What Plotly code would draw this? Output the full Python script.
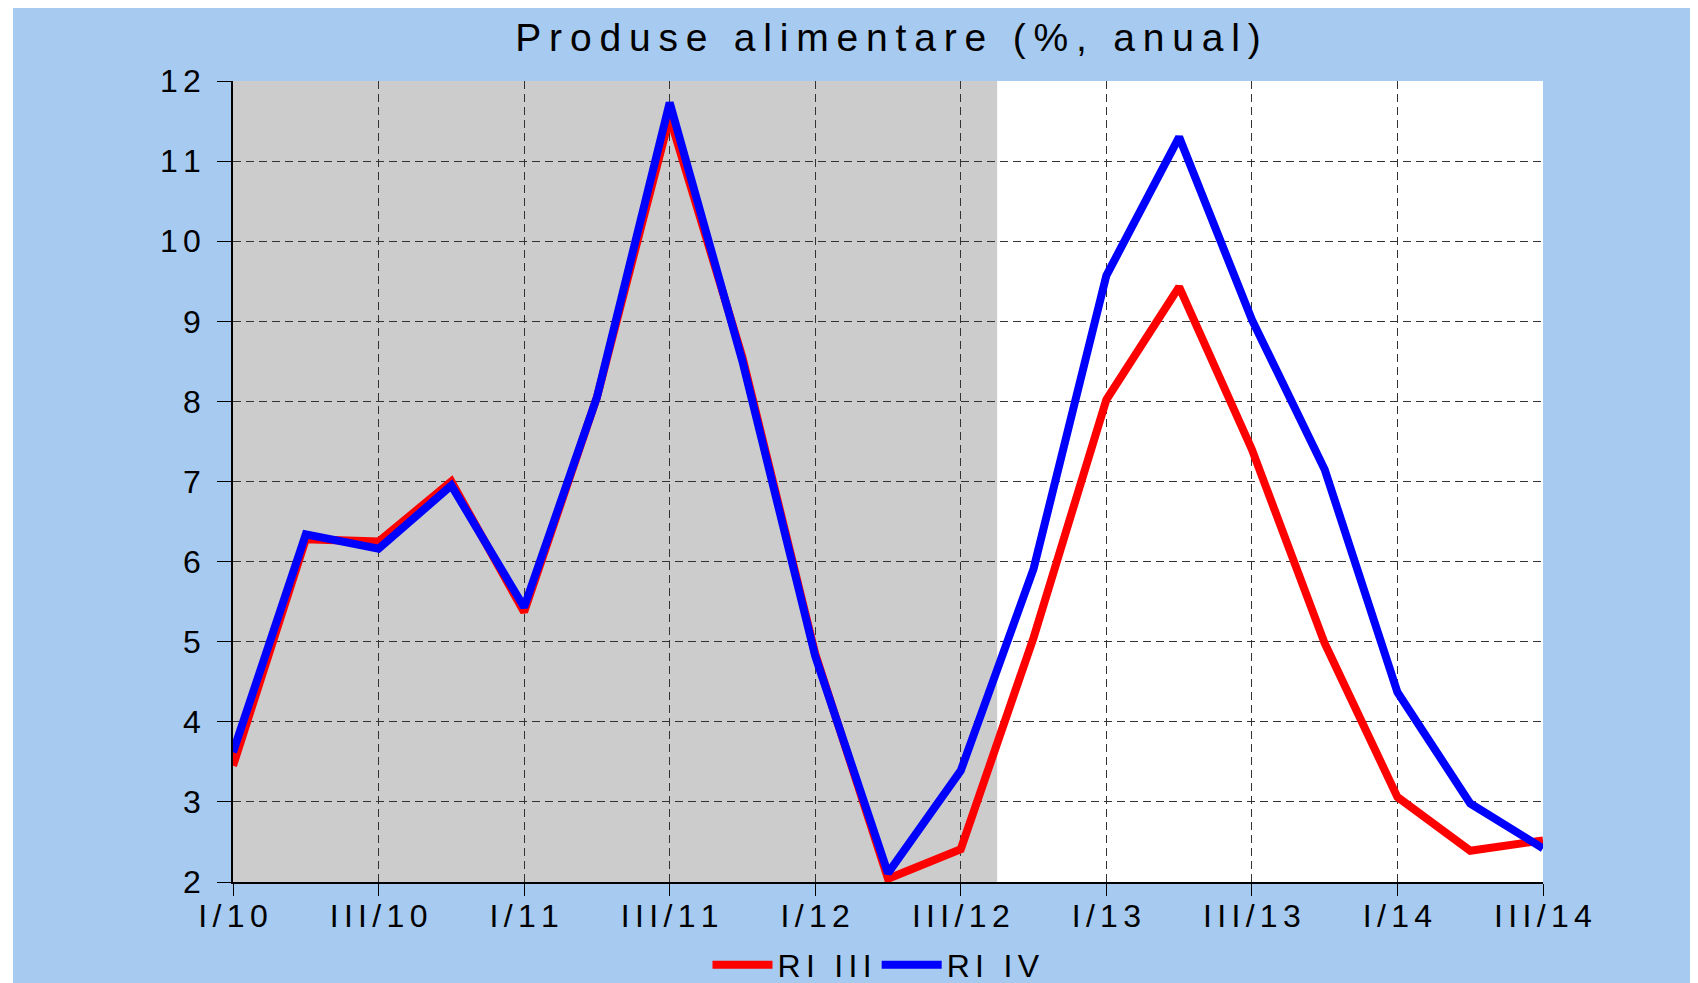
import plotly.graph_objects as go

# ---- data ----
quarters = ["I/10", "II/10", "III/10", "IV/10",
            "I/11", "II/11", "III/11", "IV/11",
            "I/12", "II/12", "III/12", "IV/12",
            "I/13", "II/13", "III/13", "IV/13",
            "I/14", "II/14", "III/14"]
ri_iii = [3.45, 6.28, 6.25, 7.00, 5.37, 8.05, 11.55, 8.55, 4.85, 2.04, 2.41,
          5.05, 8.02, 9.43, 7.40, 4.98, 3.06, 2.39, 2.52]
ri_iv = [3.62, 6.34, 6.16, 6.95, 5.43, 8.05, 11.73, 8.50, 4.82, 2.11, 3.39,
         5.91, 9.57, 11.30, 9.02, 7.15, 4.37, 2.98, 2.42]
series_names = ["RI III", "RI IV"]
y_ticks = list(range(2, 13))
history_end = 10.5  # shaded (historical) period ends between III/12 and IV/12
title_text = "Produse alimentare (%, anual)"

SP_T = "\u2009"   # tracking for title
SP = "\u2006"     # tracking for tick labels / legend


def spaced(s, sp):
    out = []
    for w in s.split(" "):
        out.append(sp.join(list(w)))
    return (sp + " " + sp).join(out)


BLUE_BG = "#A6CAF0"
FONT = "Liberation Sans, Arial, sans-serif"

# page body has an 8px margin, so the figure is sized to fill the rest
W, H = 1690, 975
L, T, R, B = 225, 73, 155, 101

fig = go.Figure()
fig.add_trace(go.Scatter(x=quarters, y=ri_iii, mode="lines",
                         name=spaced(series_names[0], SP),
                         line=dict(color="#FF0000", width=8)))
fig.add_trace(go.Scatter(x=quarters, y=ri_iv, mode="lines",
                         name=spaced(series_names[1], SP),
                         line=dict(color="#0000FF", width=8)))

# shaded history period
fig.add_shape(type="rect", xref="x", yref="paper", x0=0, x1=history_end,
              y0=0, y1=1, fillcolor="#CCCCCC", line=dict(width=0), layer="below")
# thin white strip at the left of the picture
fig.add_shape(type="rect", xref="paper", yref="paper", x0=-1, x1=-(L - 5) / 1310,
              y0=-1, y1=2, fillcolor="white", line=dict(width=0), layer="below")

fig.update_layout(
    width=W, height=H,
    margin=dict(l=L, r=R, t=T, b=B, autoexpand=False),
    paper_bgcolor=BLUE_BG,
    plot_bgcolor="white",
    font=dict(family=FONT, size=32, color="black"),
    title=dict(text=spaced(title_text, SP_T), x=0.5, xref="paper", xanchor="center",
               y=1 - 29 / H, yref="container", yanchor="middle",
               font=dict(family=FONT, size=39, color="black")),
    showlegend=True,
    legend=dict(orientation="h", x=0.4912, xanchor="center", y=-0.1036, yanchor="middle",
                bgcolor="rgba(0,0,0,0)", font=dict(family=FONT, size=32, color="black"),
                itemwidth=60, tracegroupgap=0),
)

fig.update_xaxes(
    type="category", categoryorder="array", categoryarray=quarters,
    range=[0, len(quarters) - 1],
    tickmode="array", tickvals=quarters[::2],
    ticktext=[spaced(q, SP) for q in quarters[::2]],
    showgrid=True, gridcolor="#333333", gridwidth=1, griddash="8px,5px",
    showline=True, linecolor="black", linewidth=1.5,
    ticks="outside", ticklen=12, tickcolor="black", tickwidth=1,
    ticklabelstandoff=-7,
    zeroline=False,
)
fig.update_yaxes(
    range=[2, 12], tickmode="array", tickvals=y_ticks,
    ticktext=[spaced(str(v), SP) for v in y_ticks],
    showgrid=True, gridcolor="#333333", gridwidth=1, griddash="8px,5px",
    showline=True, linecolor="black", linewidth=1.5,
    ticks="outside", ticklen=14, tickcolor="black", tickwidth=1,
    ticklabelstandoff=10,
    zeroline=False,
)

fig.write_html("out.html")
